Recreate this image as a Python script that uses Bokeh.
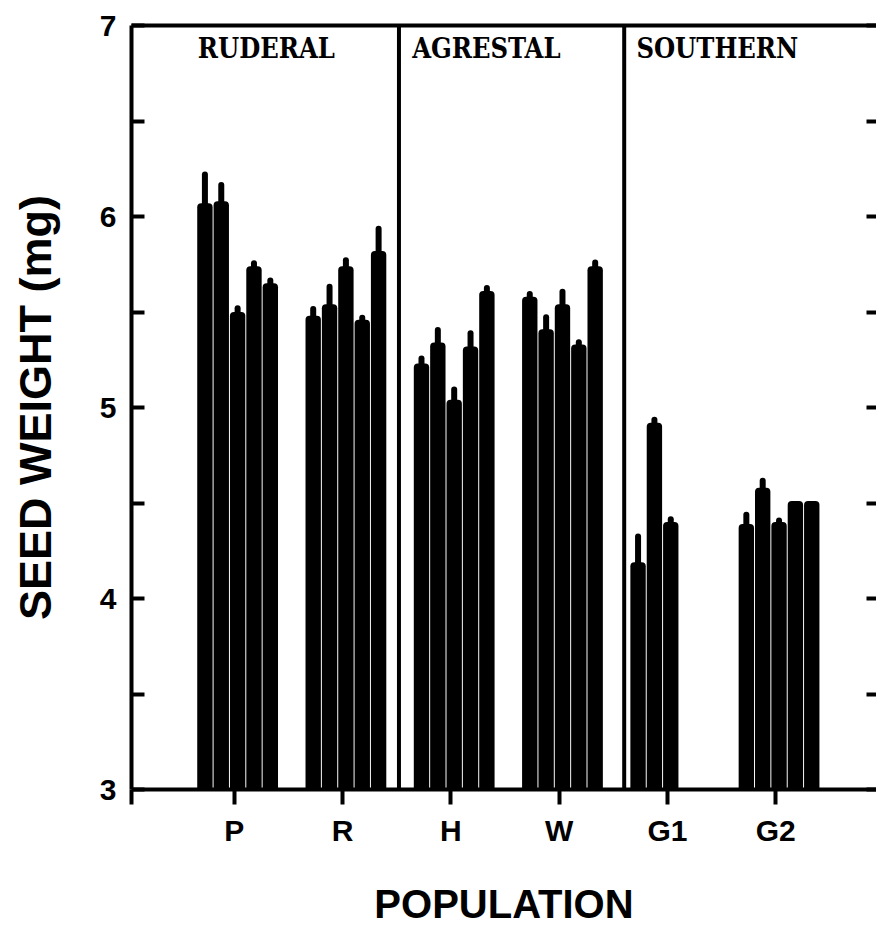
from bokeh.plotting import figure
from bokeh.models import LinearAxis, FixedTicker, Span, Label, Range1d, ColumnDataSource
from bokeh.embed import file_html
from bokeh.resources import INLINE

# ---- data ----
populations = ["P", "R", "H", "W", "G1", "G2"]
groups = ["RUDERAL", "AGRESTAL", "SOUTHERN"]

mean_P = [6.07, 6.08, 5.50, 5.74, 5.65]
se_P = [0.15, 0.085, 0.02, 0.015, 0.015]
mean_R = [5.48, 5.54, 5.74, 5.46, 5.82]
se_R = [0.036, 0.092, 0.031, 0.01, 0.116]
mean_H = [5.23, 5.34, 5.04, 5.32, 5.61]
se_H = [0.027, 0.066, 0.054, 0.069, 0.016]
mean_W = [5.58, 5.41, 5.54, 5.33, 5.74]
se_W = [0.014, 0.063, 0.066, 0.011, 0.019]
mean_G1 = [4.19, 4.92, 4.40]
se_G1 = [0.134, 0.016, 0.015]
mean_G2 = [4.39, 4.58, 4.40, 4.51, 4.51]
se_G2 = [0.049, 0.036, 0.008, 0.0, 0.0]

y_ticks = [3, 4, 5, 6, 7]
y_minor = [3.5, 4.5, 5.5, 6.5]

means = [mean_P, mean_R, mean_H, mean_W, mean_G1, mean_G2]
ses = [se_P, se_R, se_H, se_W, se_G1, se_G2]

# ---- layout constants ----
X0, X1 = 0.05, 6.93
SLOT = 0.151
BAR_W = 0.142
SHIFT = 0.03
BLACK = "#000000"

bx, btop, ex, ey0, ey1 = [], [], [], [], []
for i, (ms, ss) in enumerate(zip(means, ses)):
    for j, (m, s) in enumerate(zip(ms, ss)):
        x = (i + 1) + SHIFT + (j - 2) * SLOT
        bx.append(x)
        btop.append(m)
        if s > 0:
            ex.append(x)
            ey0.append(m)
            ey1.append(m + s)

bars = ColumnDataSource(dict(x=bx, top=btop))
errs = ColumnDataSource(dict(x=ex, y0=ey0, y1=ey1))

p = figure(width=876, height=934, x_range=Range1d(X0, X1), y_range=Range1d(3, 7),
           output_backend="svg", toolbar_location=None,
           min_border_left=131, min_border_right=0, min_border_top=25, min_border_bottom=145)
p.grid.visible = False
p.outline_line_color = None
p.background_fill_color = "white"
p.border_fill_color = "white"

p.vbar(x="x", top="top", bottom=3, width=BAR_W, source=bars,
       fill_color=BLACK, line_color=None, border_radius=(4, 4, 0, 0))
p.segment(x0="x", y0="y0", x1="x", y1="y1", source=errs,
          line_color=BLACK, line_width=6, line_cap="round")

for loc in (2.52, 4.60):
    p.add_layout(Span(location=loc, dimension="height", line_color=BLACK, line_width=4))

for txt, gx in zip(groups, (1.295, 3.327, 5.46)):
    p.add_layout(Label(x=gx, y=6.878, text=txt, text_align="center", text_baseline="alphabetic",
                       text_font="DejaVu Serif Condensed", text_font_style="bold",
                       text_font_size="27px", text_color=BLACK))

# x axis
xa = p.xaxis[0]
xa.ticker = FixedTicker(ticks=[X0] + list(range(1, len(populations) + 1)))
xa.major_label_overrides = {X0: ""} | {i + 1: lab for i, lab in enumerate(populations)}
xa.axis_line_width = 4
xa.axis_line_color = BLACK
xa.major_tick_in = 0
xa.major_tick_out = 15
xa.major_tick_line_width = 4
xa.major_tick_line_color = BLACK
xa.minor_tick_line_color = None
xa.major_label_standoff = 9
xa.major_label_text_font = "Liberation Sans"
xa.major_label_text_font_style = "bold"
xa.major_label_text_font_size = "30px"
xa.major_label_text_color = BLACK
xa.axis_label = "POPULATION"
xa.axis_label_text_font = "Liberation Sans"
xa.axis_label_text_font_style = "bold"
xa.axis_label_text_font_size = "40px"
xa.axis_label_text_color = BLACK
xa.axis_label_standoff = 32

# y axis
ya = p.yaxis[0]
ya.ticker = FixedTicker(ticks=y_ticks, minor_ticks=y_minor)
ya.axis_line_width = 4
ya.axis_line_color = BLACK
ya.major_tick_in = 13
ya.major_tick_out = 0
ya.minor_tick_in = 13
ya.minor_tick_out = 0
ya.major_tick_line_width = 4
ya.minor_tick_line_width = 4
ya.major_tick_line_color = BLACK
ya.minor_tick_line_color = BLACK
ya.major_label_standoff = 15
ya.major_label_text_font = "Liberation Sans"
ya.major_label_text_font_style = "bold"
ya.major_label_text_font_size = "30px"
ya.major_label_text_color = BLACK
ya.axis_label = "SEED WEIGHT (mg)"
ya.axis_label_text_font = "Liberation Sans"
ya.axis_label_text_font_style = "bold"
ya.axis_label_text_font_size = "45px"
ya.axis_label_text_color = BLACK
ya.axis_label_standoff = 36

# right axis: inward ticks only, no labels (its line lies outside the cropped picture)
ra = LinearAxis(ticker=FixedTicker(ticks=[], minor_ticks=y_ticks + y_minor))
ra.axis_line_alpha = 0
ra.major_tick_in = 0
ra.major_tick_out = 0
ra.minor_tick_in = 10
ra.minor_tick_out = 0
ra.minor_tick_line_width = 4
ra.minor_tick_line_color = BLACK
ra.major_label_standoff = 0
p.add_layout(ra, "right")

# top frame line
ta = LinearAxis(ticker=FixedTicker(ticks=[], minor_ticks=[]))
ta.axis_line_width = 4
ta.axis_line_color = BLACK
ta.major_tick_in = 0
ta.major_tick_out = 0
ta.minor_tick_in = 0
ta.minor_tick_out = 0
ta.major_label_standoff = 0
p.add_layout(ta, "above")

open("out.html", "w").write(file_html(p, INLINE))
